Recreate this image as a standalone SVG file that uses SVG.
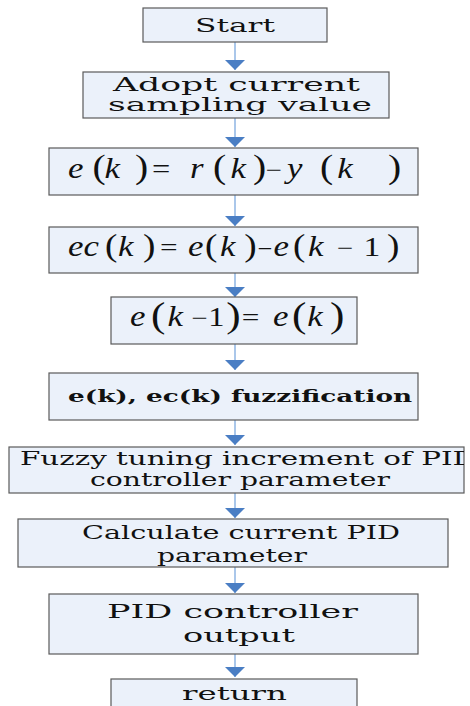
<svg xmlns="http://www.w3.org/2000/svg" width="470" height="706" viewBox="0 0 470 706">
<style>
.box{fill:#EBF1FA;stroke:#5A5A5A;stroke-width:1.2}
.t{font-family:"DejaVu Serif","Liberation Serif",serif;fill:#111;font-size:19px}
.tb{font-family:"DejaVu Serif","Liberation Serif",serif;fill:#111;font-size:16px;font-weight:bold}
.m{font-family:"Liberation Serif","Times New Roman",serif;fill:#111;font-size:29px;font-style:italic}
.p{font-style:normal}
.o{font-style:normal}
.c{fill:none;stroke:#8EB4E3;stroke-width:1.5}
</style>
<defs>
<marker id="ah" viewBox="0 0 10 20" refX="10" refY="10" markerWidth="10" markerHeight="20" markerUnits="userSpaceOnUse" orient="auto">
<path d="M0,0 L10,10 L0,20 z" fill="#4A7EC4"/>
</marker>
<clipPath id="clip7"><rect x="9" y="447" width="455" height="46"/></clipPath>
</defs>
<g id="connectors">
<line class="c" x1="235" y1="42" x2="235" y2="70" marker-end="url(#ah)"/>
<line class="c" x1="235" y1="118" x2="235" y2="147" marker-end="url(#ah)"/>
<line class="c" x1="235" y1="195" x2="235" y2="226" marker-end="url(#ah)"/>
<line class="c" x1="235" y1="273" x2="235" y2="297" marker-end="url(#ah)"/>
<line class="c" x1="235" y1="344" x2="235" y2="370" marker-end="url(#ah)"/>
<line class="c" x1="235" y1="420" x2="235" y2="445" marker-end="url(#ah)"/>
<line class="c" x1="235" y1="493" x2="235" y2="518" marker-end="url(#ah)"/>
<line class="c" x1="235" y1="567" x2="235" y2="593" marker-end="url(#ah)"/>
<line class="c" x1="235" y1="654" x2="235" y2="677" marker-end="url(#ah)"/>
</g>
<g id="start">
<rect class="box" x="143" y="8" width="184" height="34"/>
<text class="t" x="195" y="32" textLength="80" lengthAdjust="spacingAndGlyphs">Start</text>
</g>
<g id="adopt">
<rect class="box" x="83" y="72" width="306" height="46"/>
<text class="t" x="113" y="91" font-size="20" textLength="247" lengthAdjust="spacingAndGlyphs">Adopt current</text>
<text class="t" x="108" y="111" font-size="20" textLength="264" lengthAdjust="spacingAndGlyphs">sampling value</text>
</g>
<g id="error">
<rect class="box" x="49" y="148" width="369" height="47"/>
<text class="m" y="178" transform="scale(1.2,1)"><tspan x="56.7">e</tspan><tspan class="p" font-size="33" x="77">(</tspan><tspan x="87">k</tspan><tspan class="p" font-size="33" x="112.5">)</tspan><tspan class="o" font-size="27" x="126.7">=</tspan><tspan x="158.3">r</tspan><tspan class="p" font-size="33" x="177.5">(</tspan><tspan x="192">k</tspan><tspan class="p" font-size="33" x="210.8">)</tspan><tspan class="o" font-size="24" x="221.5">−</tspan><tspan x="239.2">y</tspan><tspan class="p" font-size="33" x="266.7">(</tspan><tspan x="281">k</tspan><tspan class="p" font-size="33" x="323.3">)</tspan></text>
</g>
<g id="errchange">
<rect class="box" x="49" y="227" width="369" height="46"/>
<text class="m" y="256" font-size="28" transform="scale(1.2,1)"><tspan x="56.7">ec</tspan><tspan class="p" font-size="31" x="87.5">(</tspan><tspan x="98.3">k</tspan><tspan class="p" font-size="31" x="119.2">)</tspan><tspan class="o" font-size="26" x="133.3">=</tspan><tspan x="156.7">e</tspan><tspan class="p" font-size="31" x="170.8">(</tspan><tspan x="183.3">k</tspan><tspan class="p" font-size="31" x="203.5">)</tspan><tspan class="o" font-size="22" x="214.5">−</tspan><tspan x="228">e</tspan><tspan class="p" font-size="31" x="244.2">(</tspan><tspan x="256.7">k</tspan><tspan class="o" font-size="24" x="280.8">−</tspan><tspan class="o" font-size="28" x="303">1</tspan><tspan class="p" font-size="31" x="322.5">)</tspan></text>
</g>
<g id="update">
<rect class="box" x="111" y="297" width="246" height="47"/>
<text class="m" y="326" font-size="30" transform="scale(1.2,1)"><tspan x="108.3">e</tspan><tspan class="p" font-size="36" x="125.8" y="327">(</tspan><tspan x="139.5" y="326">k</tspan><tspan class="o" font-size="24" x="159.5">−</tspan><tspan class="o" font-size="27" x="173.5">1</tspan><tspan class="p" font-size="36" x="188.5" y="327">)</tspan><tspan class="o" font-size="26" x="201.5" y="326">=</tspan><tspan x="227.5">e</tspan><tspan class="p" font-size="36" x="243.3" y="327">(</tspan><tspan x="256" y="326">k</tspan><tspan class="p" font-size="36" x="275" y="327">)</tspan></text>
</g>
<g id="fuzzify">
<rect class="box" x="49" y="373" width="369" height="47"/>
<text class="tb" x="68" y="402" textLength="344" lengthAdjust="spacingAndGlyphs">e(k), ec(k) fuzzification</text>
</g>
<g id="tuning">
<rect class="box" x="9" y="447" width="455" height="46"/>
<g clip-path="url(#clip7)">
<text class="t" x="20" y="465" font-size="18" textLength="456" lengthAdjust="spacingAndGlyphs">Fuzzy tuning increment of PID</text>
</g>
<text class="t" x="90" y="486" font-size="18" textLength="300" lengthAdjust="spacingAndGlyphs">controller parameter</text>
</g>
<g id="calculate">
<rect class="box" x="18" y="519" width="430" height="48"/>
<text class="t" x="82" y="539" font-size="18" textLength="318" lengthAdjust="spacingAndGlyphs">Calculate current PID</text>
<text class="t" x="157" y="562" font-size="18" textLength="150" lengthAdjust="spacingAndGlyphs">parameter</text>
</g>
<g id="output">
<rect class="box" x="49" y="594" width="369" height="60"/>
<text class="t" x="107" y="618" font-size="20" textLength="251" lengthAdjust="spacingAndGlyphs">PID controller</text>
<text class="t" x="183" y="642" font-size="20" textLength="112" lengthAdjust="spacingAndGlyphs">output</text>
</g>
<g id="return">
<rect class="box" x="111" y="679" width="246" height="40"/>
<text class="t" x="182" y="700" font-size="19" textLength="105" lengthAdjust="spacingAndGlyphs">return</text>
</g>
</svg>
